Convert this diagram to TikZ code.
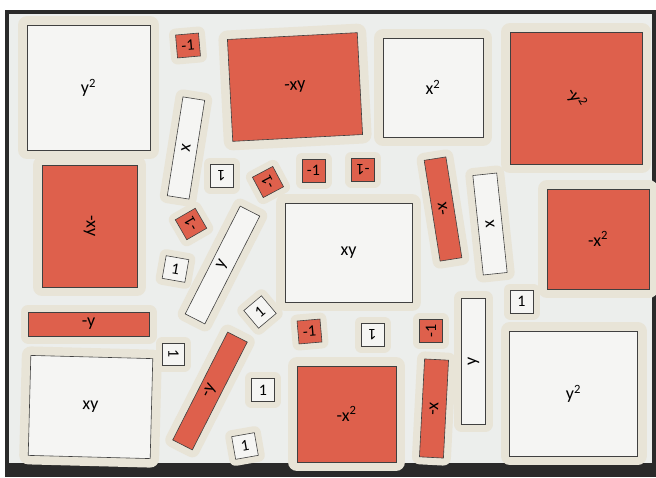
\documentclass[tikz,border=0pt]{standalone}
\usepackage{fontspec}
\setmainfont{Carlito}
\definecolor{tilered}{HTML}{DE604C}
\definecolor{tilewhite}{HTML}{F5F5F3}
\definecolor{lamin}{HTML}{E8E4D7}
\definecolor{board}{HTML}{ECEEEC}
\definecolor{frame}{HTML}{2A2A2A}
\tikzset{tile/.style={draw=black!75,line width=0.6pt,inner sep=0pt,outer sep=0pt,font=\fontsize{18}{18}\selectfont},postile/.style={tile,fill=tilewhite},negtile/.style={tile,fill=tilered},bigtile/.style={preaction={draw=lamin,line width=18pt,line join=round}},unittile/.style={minimum width=23pt,minimum height=23pt,font=\fontsize{16}{16}\selectfont,preaction={draw=lamin,line width=13pt,line join=round}},bartile/.style={minimum height=23pt,font=\fontsize{18}{18}\selectfont,preaction={draw=lamin,line width=15pt,line join=round}},tilelabel/.style={inner sep=0pt,font=\fontsize{18}{18}\selectfont}}

\begin{document}
\begin{tikzpicture}[x=1pt,y=-1pt]
\useasboundingbox (0,0) rectangle (656,477);
% board and frame
\fill[white] (0,0) rectangle (656,477);
\fill[frame] (5,10) rectangle (656,477);
\fill[board] (9,14) rectangle (652,463);
% squares
\node[postile,bigtile,minimum width=123pt,minimum height=125pt] (ysqtop) at (88.5,87.5) {y\textsuperscript{2}};
\node[negtile,bigtile,minimum width=130pt,minimum height=102pt,rotate=3] (negxytop) at (295,87) {-xy};
\node[postile,bigtile,minimum width=100pt,minimum height=99pt] (xsqtop) at (433,87.5) {x\textsuperscript{2}};
\node[negtile,bigtile,minimum width=132pt,minimum height=132pt] (negysq) at (576,98) {};
\node[tilelabel,rotate=-60] (negysqlabel) at (negysq.center) {-y\textsuperscript{2}};
\node[negtile,bigtile,minimum width=122pt,minimum height=95pt,rotate=-90] (negxyleft) at (89.5,226) {-xy};
\node[postile,bigtile,minimum width=127pt,minimum height=99pt] (xymid) at (348.5,252.5) {xy};
\node[negtile,bigtile,minimum width=102pt,minimum height=100pt] (negxsqright) at (598,239) {-x\textsuperscript{2}};
\node[postile,bigtile,minimum width=122pt,minimum height=100pt,rotate=-1.5] (xybottom) at (90.5,407) {xy};
\node[negtile,bigtile,minimum width=99pt,minimum height=96pt] (negxsqbottom) at (346.5,414) {-x\textsuperscript{2}};
\node[postile,bigtile,minimum width=128pt,minimum height=125pt] (ysqbottom) at (573.5,393.5) {y\textsuperscript{2}};
% bars
\node[postile,bartile,minimum width=100pt,minimum height=22pt,rotate=81] (xbarleft) at (186,148) {x};
\node[postile,bartile,minimum width=121pt,minimum height=22pt,rotate=63] (ybardiag) at (222.5,265) {y};
\node[negtile,bartile,minimum width=102pt,minimum height=22pt,rotate=99] (negxbarmid) at (443,209) {-x};
\node[postile,bartile,minimum width=100pt,minimum height=24pt,rotate=96] (xbarright) at (490,224) {x};
\node[negtile,bartile,minimum width=121pt,minimum height=24pt] (negybar) at (88.5,324) {-y};
\node[negtile,bartile,minimum width=121pt,minimum height=22pt,rotate=63] (negybardiag) at (210,391) {-y};
\node[postile,bartile,minimum width=126pt,minimum height=24pt,rotate=90] (ybarright) at (473.5,361) {y};
\node[negtile,bartile,minimum width=98pt,minimum height=24pt,rotate=87] (negxbarbottom) at (434,408.5) {-x};
% unit tiles
\node[negtile,unittile,rotate=5] (negonea) at (188,45.5) {-1};
\node[postile,unittile,rotate=180] (onea) at (221.5,175.5) {1};
\node[negtile,unittile,rotate=118] (negoneb) at (268,182) {-1};
\node[negtile,unittile] (negonec) at (313.5,170.5) {-1};
\node[negtile,unittile,rotate=180] (negoned) at (363,169.5) {-1};
\node[negtile,unittile,rotate=120] (negonee) at (191,224) {-1};
\node[postile,unittile,rotate=-10] (oneb) at (175.5,269) {1};
\node[postile,unittile,rotate=40] (onec) at (260,312) {1};
\node[postile,unittile,minimum width=22pt,minimum height=22pt,rotate=-90] (oned) at (173.5,354) {1};
\node[postile,unittile] (onee) at (263,390) {1};
\node[postile,unittile,rotate=10] (onef) at (245,446) {1};
\node[negtile,unittile,rotate=5] (negonef) at (309.5,331.5) {-1};
\node[postile,unittile,rotate=180] (oneg) at (372.5,334.5) {1};
\node[negtile,unittile,rotate=90] (negoneg) at (431,331) {-1};
\node[postile,unittile] (oneh) at (521.5,301.5) {1};
\end{tikzpicture}
\end{document}
